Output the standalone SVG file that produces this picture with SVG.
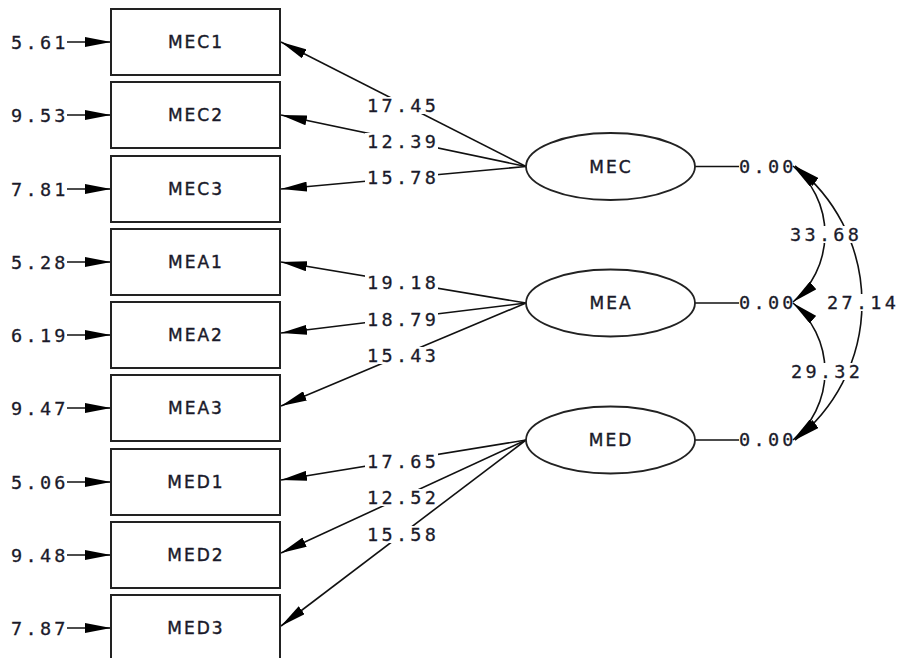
<svg xmlns="http://www.w3.org/2000/svg" width="900" height="658" viewBox="0 0 900 658">
<style>
.box{fill:#fff;stroke:#222;stroke-width:2}
.ell{fill:#fff;stroke:#222;stroke-width:1.8}
.ln{fill:none;stroke:#111;stroke-width:1.6}
.num{font-family:"DejaVu Sans Mono","Liberation Mono",monospace;font-size:18.5px;letter-spacing:3.3px;fill:#1a1a2a;stroke:#1a1a2a;stroke-width:0.3}
.lab{font-family:"DejaVu Sans","Liberation Sans",sans-serif;font-size:17px;letter-spacing:2px;fill:#1a1a2a;stroke:#1a1a2a;stroke-width:0.4;text-anchor:middle}
.bg{fill:#fff}
</style>
<defs>
<marker id="ah" markerUnits="userSpaceOnUse" viewBox="0 0 26 10" markerWidth="26" markerHeight="10" refX="26" refY="5" orient="auto-start-reverse">
<path d="M0,0 L26,5 L0,10 z" fill="#000"/>
</marker>
</defs>
<rect width="900" height="658" fill="#fff"/>
<g id="connectors">
<line class="ln" x1="67" y1="42" x2="111" y2="42" marker-end="url(#ah)"/>
<line class="ln" x1="67" y1="115" x2="111" y2="115" marker-end="url(#ah)"/>
<line class="ln" x1="67" y1="189" x2="111" y2="189" marker-end="url(#ah)"/>
<line class="ln" x1="67" y1="262" x2="111" y2="262" marker-end="url(#ah)"/>
<line class="ln" x1="67" y1="335" x2="111" y2="335" marker-end="url(#ah)"/>
<line class="ln" x1="67" y1="408" x2="111" y2="408" marker-end="url(#ah)"/>
<line class="ln" x1="67" y1="482" x2="111" y2="482" marker-end="url(#ah)"/>
<line class="ln" x1="67" y1="555" x2="111" y2="555" marker-end="url(#ah)"/>
<line class="ln" x1="67" y1="628" x2="111" y2="628" marker-end="url(#ah)"/>
<text class="num" x="11" y="48.5">5.61</text>
<text class="num" x="11" y="121.5">9.53</text>
<text class="num" x="11" y="195.5">7.81</text>
<text class="num" x="11" y="268.5">5.28</text>
<text class="num" x="11" y="341.5">6.19</text>
<text class="num" x="11" y="414.5">9.47</text>
<text class="num" x="11" y="488.5">5.06</text>
<text class="num" x="11" y="561.5">9.48</text>
<text class="num" x="11" y="634.5">7.87</text>
<line class="ln" x1="526" y1="166.5" x2="281" y2="42" marker-end="url(#ah)"/>
<line class="ln" x1="526" y1="166.5" x2="281" y2="115" marker-end="url(#ah)"/>
<line class="ln" x1="526" y1="166.5" x2="281" y2="189" marker-end="url(#ah)"/>
<line class="ln" x1="526" y1="303" x2="281" y2="262" marker-end="url(#ah)"/>
<line class="ln" x1="526" y1="303" x2="281" y2="333" marker-end="url(#ah)"/>
<line class="ln" x1="526" y1="303" x2="281" y2="406" marker-end="url(#ah)"/>
<line class="ln" x1="526" y1="440" x2="281" y2="480" marker-end="url(#ah)"/>
<line class="ln" x1="526" y1="440" x2="281" y2="553" marker-end="url(#ah)"/>
<line class="ln" x1="526" y1="440" x2="281" y2="626" marker-end="url(#ah)"/>
<rect class="bg" x="365" y="97" width="73" height="17"/>
<rect class="bg" x="365" y="133" width="73" height="17"/>
<rect class="bg" x="365" y="169" width="73" height="17"/>
<rect class="bg" x="365" y="274" width="73" height="17"/>
<rect class="bg" x="365" y="311" width="73" height="17"/>
<rect class="bg" x="365" y="347" width="73" height="17"/>
<rect class="bg" x="365" y="453" width="73" height="17"/>
<rect class="bg" x="365" y="489" width="73" height="17"/>
<rect class="bg" x="365" y="526" width="73" height="17"/>
<text class="num" x="367" y="112">17.45</text>
<text class="num" x="367" y="148">12.39</text>
<text class="num" x="367" y="184">15.78</text>
<text class="num" x="367" y="289">19.18</text>
<text class="num" x="367" y="326">18.79</text>
<text class="num" x="367" y="362">15.43</text>
<text class="num" x="367" y="468">17.65</text>
<text class="num" x="367" y="504">12.52</text>
<text class="num" x="367" y="541">15.58</text>
<line class="ln" x1="695" y1="166.5" x2="739" y2="166.5"/>
<line class="ln" x1="695" y1="303" x2="739" y2="303"/>
<line class="ln" x1="695" y1="440" x2="739" y2="440"/>
<text class="num" x="739" y="172.5">0.00</text>
<text class="num" x="739" y="309">0.00</text>
<text class="num" x="739" y="446">0.00</text>
<path class="ln" d="M793,166 A88.3,88.3 0 0 1 793,302" marker-start="url(#ah)" marker-end="url(#ah)"/>
<path class="ln" d="M793,303 A89.3,89.3 0 0 1 793,440" marker-start="url(#ah)" marker-end="url(#ah)"/>
<path class="ln" d="M795,166 A173.6,173.6 0 0 1 795,440" marker-start="url(#ah)" marker-end="url(#ah)"/>
<rect class="bg" x="789" y="226" width="74" height="17"/>
<rect class="bg" x="826" y="294" width="72" height="17"/>
<rect class="bg" x="789" y="363" width="74" height="17"/>
<text class="num" x="790" y="241">33.68</text>
<text class="num" x="827" y="309">27.14</text>
<text class="num" x="791" y="378">29.32</text>
</g>
<g id="MEC1"><rect class="box" x="111" y="9" width="169" height="66"/><text class="lab" x="196" y="48.3">MEC1</text></g>
<g id="MEC2"><rect class="box" x="111" y="82" width="169" height="66"/><text class="lab" x="196" y="121.3">MEC2</text></g>
<g id="MEC3"><rect class="box" x="111" y="156" width="169" height="66"/><text class="lab" x="196" y="195.3">MEC3</text></g>
<g id="MEA1"><rect class="box" x="111" y="229" width="169" height="66"/><text class="lab" x="196" y="268.3">MEA1</text></g>
<g id="MEA2"><rect class="box" x="111" y="302" width="169" height="66"/><text class="lab" x="196" y="341.3">MEA2</text></g>
<g id="MEA3"><rect class="box" x="111" y="375" width="169" height="66"/><text class="lab" x="196" y="414.3">MEA3</text></g>
<g id="MED1"><rect class="box" x="111" y="449" width="169" height="66"/><text class="lab" x="196" y="488.3">MED1</text></g>
<g id="MED2"><rect class="box" x="111" y="522" width="169" height="66"/><text class="lab" x="196" y="561.3">MED2</text></g>
<g id="MED3"><rect class="box" x="111" y="595" width="169" height="66"/><text class="lab" x="196" y="634.3">MED3</text></g>
<g id="MEC"><ellipse class="ell" cx="610.5" cy="166.5" rx="84.5" ry="33.5"/><text class="lab" x="611" y="172.5">MEC</text></g>
<g id="MEA"><ellipse class="ell" cx="610.5" cy="303" rx="84.5" ry="33.5"/><text class="lab" x="611" y="309">MEA</text></g>
<g id="MED"><ellipse class="ell" cx="610.5" cy="440" rx="84.5" ry="33.5"/><text class="lab" x="611" y="446">MED</text></g>
</svg>
